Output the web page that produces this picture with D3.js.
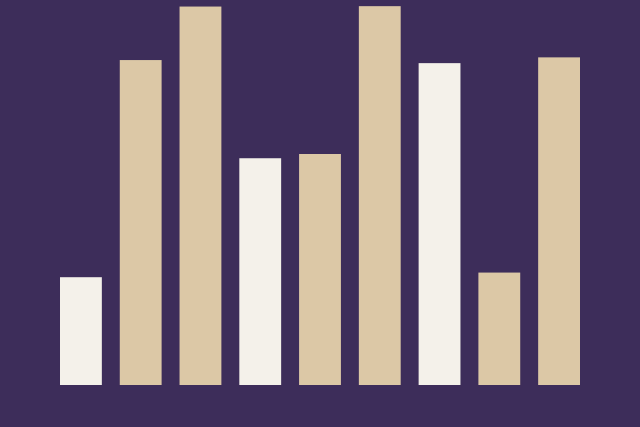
<!DOCTYPE html>
<html>
<head>
<meta charset="utf-8">
<script src="https://cdn.jsdelivr.net/npm/d3@7"></script>
<style>
  html, body { margin: 0; padding: 0; background: #3d2d5a; overflow: hidden; }
</style>
</head>
<body>
<svg id="chart"></svg>
<script>
const width = 640;
const height = 427;

const categories = ["A", "B", "C", "D", "E", "F", "G", "H", "I"];
const values = [28, 84.4, 98.3, 58.9, 60, 98.4, 83.6, 29.2, 85.1];
const highlighted = [true, false, false, true, false, false, true, false, false];

const svg = d3.select("#chart").attr("width", width).attr("height", height);

svg.append("rect")
  .attr("width", width)
  .attr("height", height)
  .attr("fill", "#3d2d5a");

const x = d3.scaleBand()
  .domain(categories)
  .range([60, 580])
  .paddingInner(0.3)
  .paddingOuter(0);

const y = d3.scaleLinear()
  .domain([0, 100])
  .range([385, 0]);

svg.append("g")
  .selectAll("rect")
  .data(categories)
  .enter()
  .append("rect")
  .attr("x", (d) => x(d))
  .attr("y", (d, i) => y(values[i]))
  .attr("width", x.bandwidth())
  .attr("height", (d, i) => y(0) - y(values[i]))
  .attr("fill", (d, i) => (highlighted[i] ? "#f4f1ea" : "#dcc8a6"));
</script>
</body>
</html>
